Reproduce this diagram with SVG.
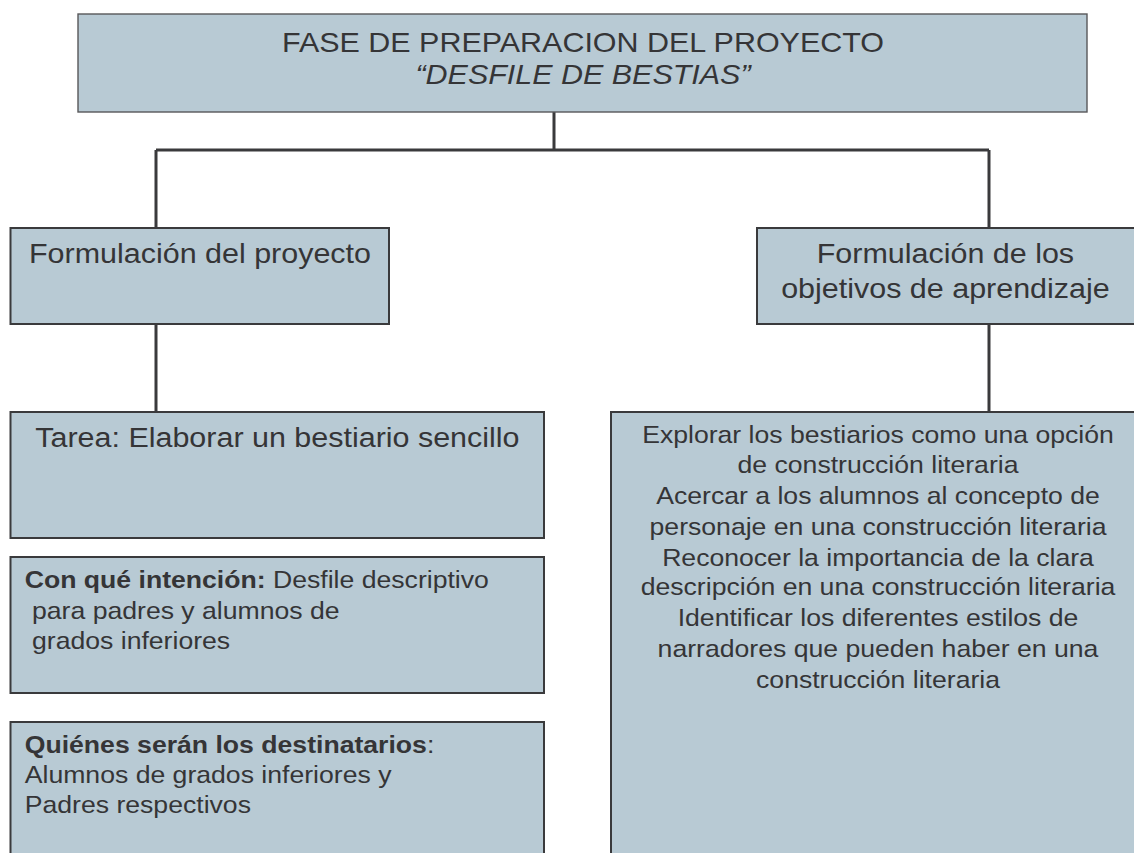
<svg xmlns="http://www.w3.org/2000/svg" width="1134" height="853" viewBox="0 0 1134 853">
<style>
.box{fill:#b8cad4;stroke:#3a3a3c;stroke-width:2}
.top{fill:#b8cad4;stroke:#58585a;stroke-width:1.4}
.con{fill:none;stroke:#3a3a3c;stroke-width:3}
text{font-family:"Liberation Sans",Arial,sans-serif;fill:#353537}
.big{font-size:27.7px}
.sm{font-size:24.2px}
.c{text-anchor:middle}
.b{font-weight:bold}
</style>
<rect width="1134" height="853" fill="#ffffff"/>
<g id="connectors">
<path class="con" d="M554 112 V150 M156 150 H989 M156 150 V228 M989 150 V228 M156 324 V412 M989 324 V412"/>
</g>
<g id="node-top">
<rect class="top" x="78" y="14" width="1009" height="98"/>
<g transform="scale(1.1 1)">
<text class="big c" x="530" y="51.7">FASE DE PREPARACION DEL PROYECTO</text>
<text class="big c" x="530" y="84" font-style="italic">“DESFILE DE BESTIAS”</text>
</g>
</g>
<g id="node-formulacion-proyecto">
<rect class="box" x="10.5" y="228" width="378.5" height="96"/>
<g transform="scale(1.1 1)"><text class="big c" x="181.8" y="263">Formulación del proyecto</text></g>
</g>
<g id="node-formulacion-objetivos">
<rect class="box" x="757" y="228" width="390" height="96"/>
<g transform="scale(1.1 1)">
<text class="big c" x="859.5" y="263">Formulación de los</text>
<text class="big c" x="859.5" y="298">objetivos de aprendizaje</text>
</g>
</g>
<g id="node-tarea">
<rect class="box" x="10.5" y="412" width="533.5" height="126"/>
<g transform="scale(1.1 1)"><text class="big c" x="252.2" y="447">Tarea: Elaborar un bestiario sencillo</text></g>
</g>
<g id="node-intencion">
<rect class="box" x="10.5" y="557" width="533.5" height="136"/>
<g transform="scale(1.1 1)">
<text class="sm" x="22.5" y="588"><tspan class="b">Con qué intención:</tspan> Desfile descriptivo</text>
<text class="sm" x="29.1" y="619">para padres y alumnos de</text>
<text class="sm" x="29.1" y="649">grados inferiores</text>
</g>
</g>
<g id="node-destinatarios">
<rect class="box" x="10.5" y="722" width="533.5" height="150"/>
<g transform="scale(1.1 1)">
<text class="sm" x="22.5" y="753"><tspan class="b">Quiénes serán los destinatarios</tspan>:</text>
<text class="sm" x="22.5" y="783">Alumnos de grados inferiores y</text>
<text class="sm" x="22.5" y="813">Padres respectivos</text>
</g>
</g>
<g id="node-objetivos">
<rect class="box" x="611" y="412" width="540" height="460"/>
<g transform="scale(1.1 1)">
<text class="sm c" x="798.2" y="443">Explorar los bestiarios como una opción</text>
<text class="sm c" x="798.2" y="473">de construcción literaria</text>
<text class="sm c" x="798.2" y="504">Acercar a los alumnos al concepto de</text>
<text class="sm c" x="798.2" y="535">personaje en una construcción literaria</text>
<text class="sm c" x="798.2" y="566">Reconocer la importancia de la clara</text>
<text class="sm c" x="798.2" y="595">descripción en una construcción literaria</text>
<text class="sm c" x="798.2" y="626">Identificar los diferentes estilos de</text>
<text class="sm c" x="798.2" y="657">narradores que pueden haber en una</text>
<text class="sm c" x="798.2" y="688">construcción literaria</text>
</g>
</g>
</svg>
